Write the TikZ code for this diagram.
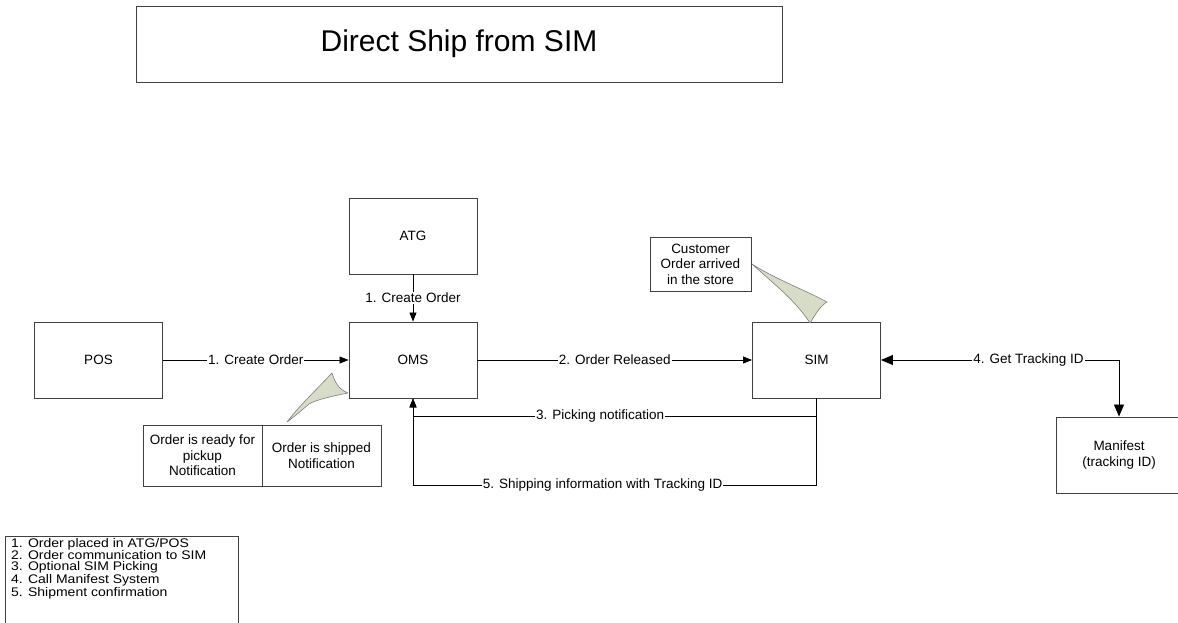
\documentclass[tikz,border=0pt]{standalone}
\usepackage{fontspec}
\setmainfont{Liberation Sans}
\newfontfamily\legendfont{Liberation Sans}[FakeStretch=1.12]
\usetikzlibrary{arrows.meta}
\definecolor{boxline}{HTML}{404040}
\definecolor{callfill}{HTML}{D7DCC6}
\definecolor{callline}{HTML}{7F7F7F}
\tikzset{
  sysbox/.style={draw=boxline, line width=0.9pt, minimum width=128, minimum height=76, inner sep=2pt, align=center, font=\fontsize{13.5}{15.5}\selectfont},
  notebox/.style={draw=boxline, line width=0.9pt, inner sep=2pt, align=center, font=\fontsize{13.5}{15.5}\selectfont},
  conn/.style={draw=black, line width=0.8pt},
  arr/.style={conn, -{Triangle[length=9pt, width=7pt]}},
  lbl/.style={fill=white, inner xsep=1pt, inner ysep=1pt, font=\fontsize{13.5}{15.5}\selectfont},
  callout/.style={fill=callfill, draw=callline, line width=0.6pt, line join=round}
}
\begin{document}
\begin{tikzpicture}[x=1pt, y=-1pt]
\useasboundingbox (0,0) rectangle (1178,623);
% title
\node[draw=boxline, line width=0.9pt, minimum width=646, minimum height=76, font=\fontsize{30}{34}\selectfont] (title) at (459,44) {Direct Ship from SIM};
% systems
\node[sysbox] (atg) at (413,236) {ATG};
\node[sysbox] (pos) at (98.5,360) {POS};
\node[sysbox] (oms) at (413,360) {OMS};
\node[sysbox] (sim) at (816.5,360) {SIM};
\node[sysbox, minimum width=126] (man) at (1119,455) {Manifest\\(tracking ID)};
% notes
\node[notebox, minimum width=101, minimum height=54] (cust) at (700.5,264) {Customer\\Order arrived\\in the store};
\node[notebox, minimum width=119, minimum height=61] (nready) at (202.5,455.5) {Order is ready for\\pickup\\Notification};
\node[notebox, minimum width=119, minimum height=61] (nship) at (321.5,455.5) {Order is shipped\\Notification};
% callouts
\draw[callout] (287,422) .. controls (300,405) and (318,388) .. (332,373)
  .. controls (335,382) and (338,389) .. (348,393)
  .. controls (333,396) and (315,400) .. (309,404)
  .. controls (302,410) and (294,417) .. cycle;
\draw[callout] (752,264) .. controls (775,279) and (805,290) .. (827,302)
  .. controls (820,306) and (815,315) .. (810,323)
  .. controls (795,300) and (775,285) .. cycle;
% connectors
\draw[arr] (atg) -- node[lbl] {1. Create Order} (oms);
\draw[arr] (pos) -- node[lbl, pos=0.5] {1. Create Order} (oms);
\draw[arr] (oms) -- node[lbl, pos=0.5] {2. Order Released} (sim);
\draw[arr] (sim.south) -- ++(0,18) -| node[lbl, pos=0.268] {3. Picking notification} (oms.south);
\draw[arr] (sim.south) -- ++(0,87) -| node[lbl, pos=0.265] {5. Shipping information with Tracking ID} (oms.south);
\draw[conn, {Triangle[length=12pt, width=10pt]}-{Triangle[length=12pt, width=10pt]}] (sim.east) -| node[lbl, pos=0.31] {4. Get Tracking ID} (man.north);
% legend
\draw[boxline, line width=0.9pt] (5,536) rectangle (238,640);
\node[anchor=north west, inner sep=0pt, align=left, font=\legendfont\fontsize{12.5}{10.8}\selectfont] (legend) at (11,538) {1. Order placed in ATG/POS\\2. Order communication to SIM\\3. Optional SIM Picking\\4. Call Manifest System\\5. Shipment confirmation};
\end{tikzpicture}
\end{document}
